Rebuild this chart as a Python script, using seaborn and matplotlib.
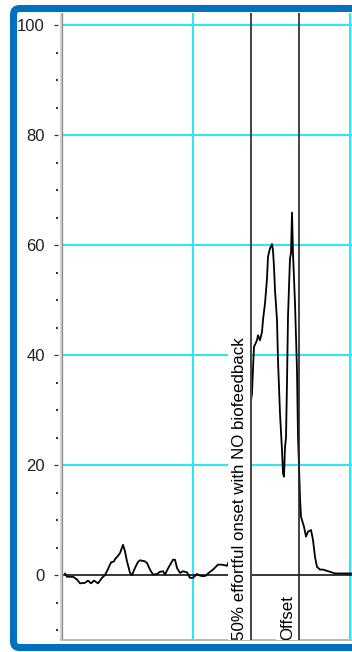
import matplotlib.pyplot as plt
import seaborn as sns
import pandas as pd
from matplotlib.patches import FancyBboxPatch
from matplotlib.transforms import IdentityTransform

# signal trace (sample index, level in %)
sample = [2, 4, 10, 14, 17, 22, 25, 28, 31, 35, 39, 42, 45, 48, 51, 52, 55, 57, 60, 62,
          64, 67, 69, 72, 75, 77, 82, 84, 87, 90, 94, 97, 100, 102, 105, 110, 112, 114, 117, 120,
          124, 127, 130, 134, 137, 140, 143, 145, 150, 155, 159, 164, 167, 173, 179, 185, 189, 190, 191, 194,
          195, 197, 199, 200, 202, 204, 205, 207, 209, 210, 211, 212, 214, 215, 217, 219, 220, 221, 222, 223,
          224, 225, 226, 227, 228, 229, 230, 232, 234, 235, 236, 237, 238, 241, 243, 245, 248, 250, 252, 254,
          257, 260, 267, 272, 277, 289]
level = [0.3, -0.3, -0.3, -0.8, -1.5, -1.4, -1.0, -1.5, -1.0, -1.5, -0.5, 0.0, 1.1, 2.3, 2.5, 2.9, 3.5, 4.0, 5.5, 4.3,
         2.5, 0.4, 0.0, 1.3, 2.4, 2.7, 2.5, 2.2, 1.0, 0.1, 0.2, 0.6, 0.7, 0.1, 1.2, 2.8, 2.8, 1.3, 0.4, 0.7,
         0.5, -0.5, -0.5, 0.2, -0.1, -0.2, -0.1, 0.3, 1.0, 1.9, 1.9, 1.7, 3.0, 9.0, 18.0, 28.0, 33.0, 37.5, 41.5, 42.7,
         43.6, 42.7, 44.2, 46.4, 49.4, 53.9, 57.9, 59.4, 60.2, 59.0, 56.0, 51.8, 46.4, 39.0, 29.4, 22.7, 18.5, 17.9, 23.3, 25.0,
         35.0, 47.0, 52.4, 57.6, 58.5, 65.9, 58.5, 49.4, 37.3, 25.1, 20.0, 14.0, 10.6, 8.8, 7.0, 7.9, 8.2, 6.4, 3.3, 1.5,
         1.0, 1.0, 0.6, 0.3, 0.3, 0.3]

y_major = [0, 20, 40, 60, 80, 100]
y_grid = [20, 40, 60, 80, 100]
x_grid = [130, 287]
events = [188, 236]
event_labels = ["50% effortful onset with NO biofeedback", "Offset"]

df = pd.DataFrame({"sample": sample, "level": level})

sns.set_style("white")
plt.rcParams['font.family'] = ['Liberation Sans', 'DejaVu Sans']

CYAN = '#2EE6F4'
BLUE = '#0070C0'
X0, X1 = -5, 289
Y0, Y1 = -11.8, 102.2

fig = plt.figure(figsize=(3.52, 6.52), dpi=100)

# blue window frame (pixel coords)
frame = FancyBboxPatch((13.5, 4.5), 400, 639, boxstyle="round,pad=0,rounding_size=6",
                       transform=IdentityTransform(), fc='white', ec=BLUE, lw=5.04, zorder=-1)
fig.patches.append(frame)

ax = fig.add_axes([58 / 352, 12 / 652, 294 / 352, 627 / 652])
ax.set_facecolor('white')
ax.set_xlim(X0, X1)
ax.set_ylim(Y0, Y1)

ax.hlines(y_grid, 0, X1, color=CYAN, lw=1.5, zorder=1)
ax.vlines(x_grid, Y0, Y1, color=CYAN, lw=1.5, zorder=1)
ax.hlines([0], 0, X1, color='black', lw=1.1, zorder=2)

# sunken left axis line
ax.axvline(-2.5, color='#d4d4d4', lw=2.2, zorder=2)
ax.axvline(-0.8, color='#8a8a8a', lw=0.9, zorder=2)

sns.lineplot(data=df, x="sample", y="level", color='black', lw=1.3,
             estimator=None, ax=ax, zorder=4)

for x, lab in zip(events, event_labels):
    ax.axvline(x, color='#222222', lw=1.2, zorder=6)
    ax.text(x - 3.5, Y0, lab, rotation=90, ha='right', va='bottom', fontsize=12.2,
            color='black', bbox=dict(fc='white', ec='none', pad=3), zorder=5, clip_on=True)

ax.set_xlabel('')
ax.set_ylabel('')
ax.set_xticks([])
ax.set_yticks(y_major)
ax.set_yticks(list(range(-10, 101, 5)), minor=True)
ax.tick_params(axis='y', which='major', direction='out', length=2.6, width=0.9,
               pad=7, labelsize=12, labelcolor='#222222', color='#333333', left=True)
ax.tick_params(axis='y', which='minor', direction='out', length=1.2, width=1.4,
               color='#333333', left=True)

for s in ['left', 'top', 'right']:
    ax.spines[s].set_visible(False)
ax.spines['bottom'].set_color('#b8b8b8')
ax.spines['bottom'].set_linewidth(1.4)
ax.spines['bottom'].set_bounds(-2, X1)

fig.savefig('out.png', dpi=100)
